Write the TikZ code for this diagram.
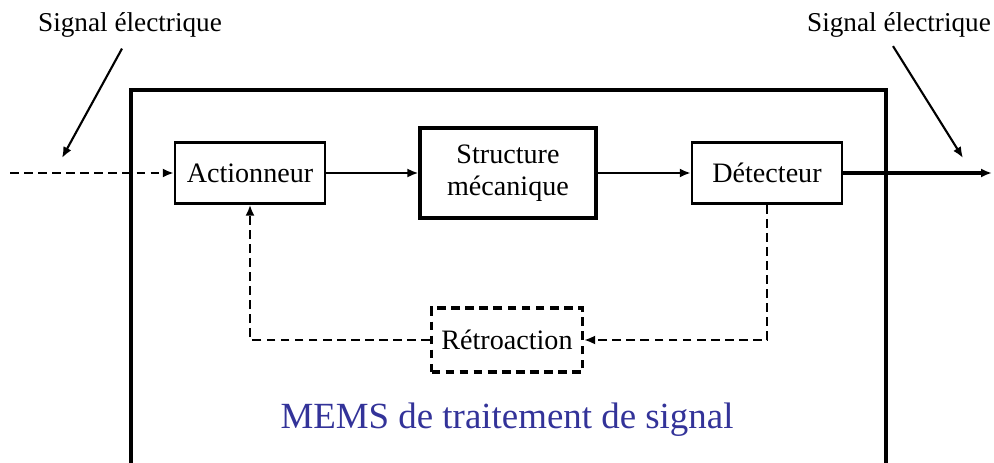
\documentclass[tikz,border=0pt]{standalone}
\usepackage{fontspec}
\setmainfont{Liberation Serif}
\usetikzlibrary{arrows.meta}
\definecolor{memsblue}{RGB}{51,51,153}
\begin{document}
\begin{tikzpicture}[x=0.02cm,y=-0.02cm,
    >={Latex[length=2.2mm,width=1.8mm]},
    bloc/.style={draw,line width=1.4pt,font=\fontsize{16}{18}\selectfont,align=center},
    pointille/.style={dash pattern=on 5pt off 3pt},
    sig/.style={line width=1.6pt}]
    \useasboundingbox (0,0) rectangle (994,463);
    % cadre du MEMS
    \draw[line width=2.2pt] (131,470) -- (131,90) -- (886,90) -- (886,470);
    \node[bloc,minimum width=3cm,minimum height=1.22cm] (act) at (250,173) {Actionneur};
    \node[bloc,line width=1.8pt,minimum width=3.52cm,minimum height=1.8cm] (struct) at (508,173) {Structure\\mécanique};
    \node[bloc,minimum width=3cm,minimum height=1.22cm] (det) at (767,173) {Détecteur};
    \node[bloc,pointille,line width=1.8pt,minimum width=3.02cm,minimum height=1.28cm] (retro) at (507,340) {Rétroaction};
    \coordinate (entree) at (10,173);
    \coordinate (sortie) at (992,173);
    \draw[sig,pointille,->] (entree) -- (act);
    \draw[sig,->] (act) -- (struct);
    \draw[sig,->] (struct) -- (det);
    \draw[sig,line width=2pt,->] (det) -- (sortie);
    % boucle de retour
    \draw[line width=1.3pt,pointille,->] (det.south) |- (retro.east);
    \draw[line width=1.3pt,pointille,->] (retro.west) -| (act.south);
    % signaux
    \node[font=\fontsize{15.5}{18}\selectfont] (sigin) at (130,25) {Signal électrique};
    \node[font=\fontsize{15.5}{18}\selectfont] (sigout) at (899,25) {Signal électrique};
    \coordinate (pin) at (62,158);
    \coordinate (pout) at (963,158);
    \draw[line width=1.2pt,->] ([xshift=-0.16cm,yshift=-0.1cm]sigin.south) -- (pin);
    \draw[line width=1.2pt,->] ([xshift=-0.12cm,yshift=-0.05cm]sigout.south) -- (pout);
    \node[text=memsblue,font=\fontsize{21}{24}\selectfont] (titre) at (507,420) {MEMS de traitement de signal};
\end{tikzpicture}
\end{document}
